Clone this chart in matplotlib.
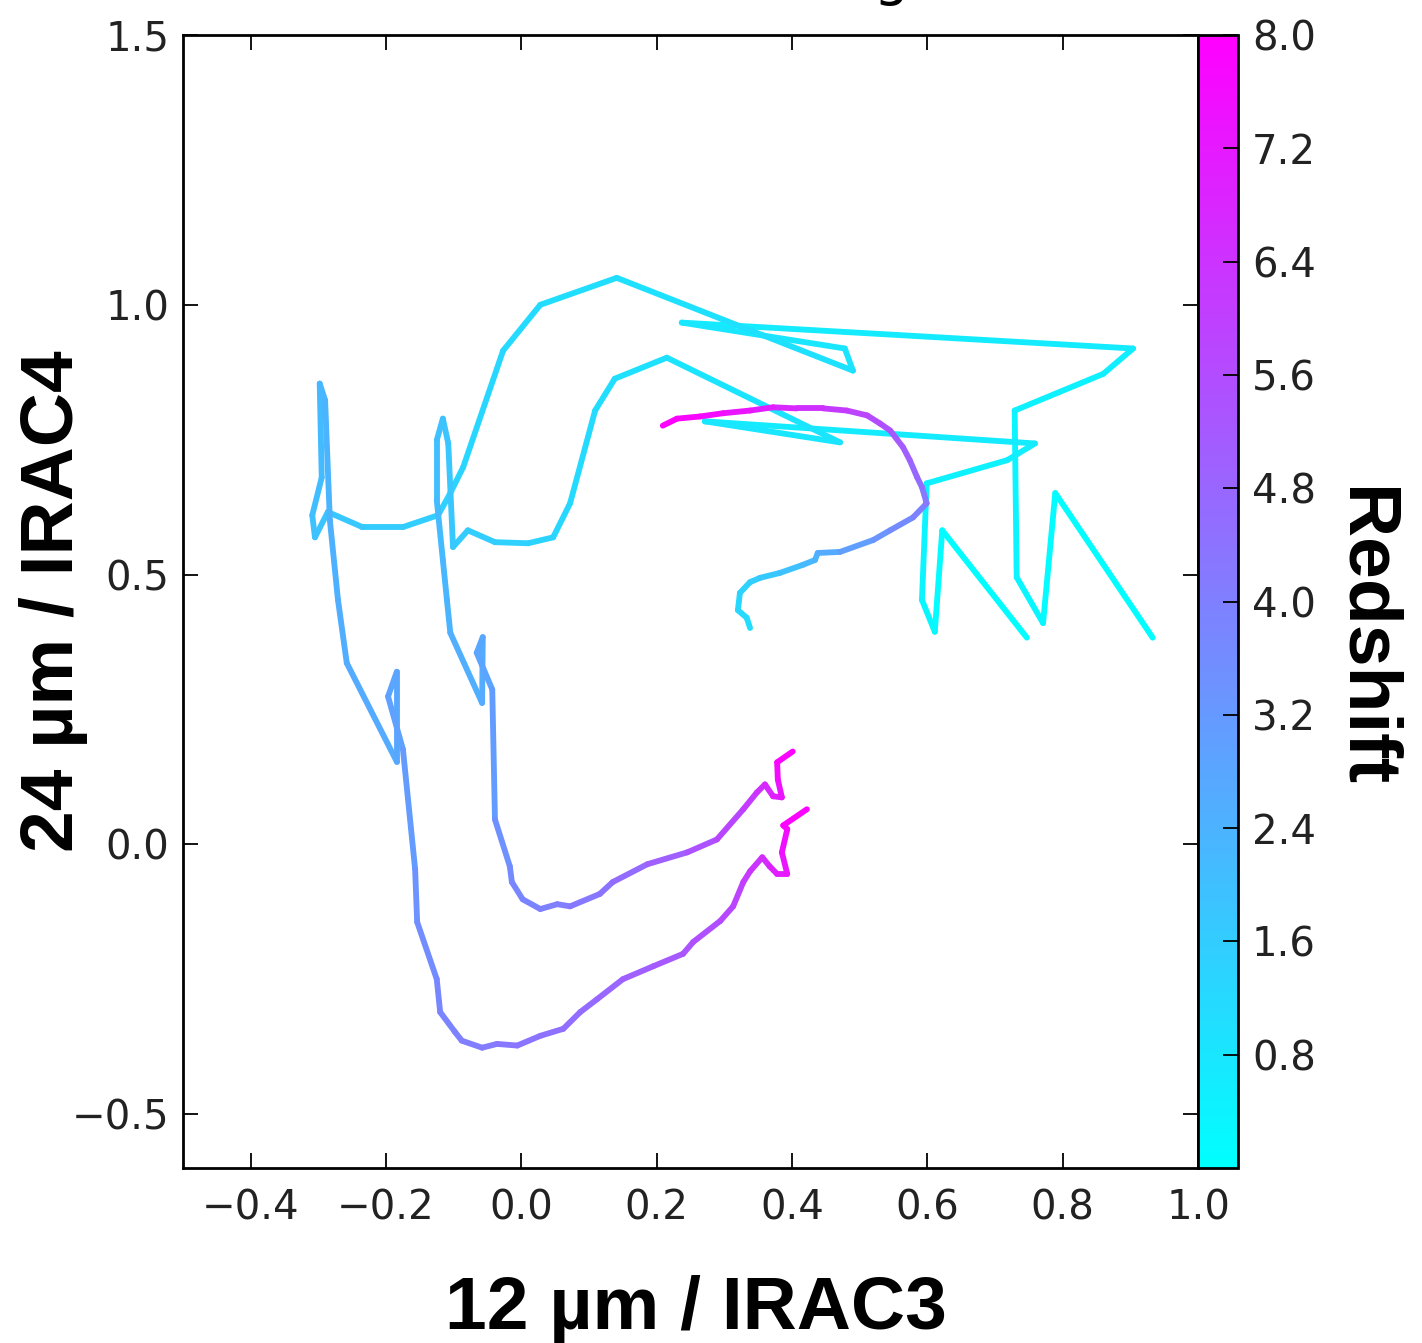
import numpy as np
import matplotlib
matplotlib.use("Agg")
import matplotlib.pyplot as plt
from matplotlib.collections import LineCollection
from matplotlib.colors import Normalize
from matplotlib.cm import ScalarMappable

# Track 1 (outer U) : colour ratios and redshift
track1_x = [0.933, 0.789, 0.771, 0.732, 0.729, 0.860, 0.904, 0.237, 0.478, 0.490,
            0.141, 0.028, -0.027, -0.086, -0.105, -0.123, -0.175, -0.235, -0.286, -0.305,
            -0.309, -0.295, -0.298, -0.290, -0.283, -0.271, -0.258, -0.184, -0.184, -0.197,
            -0.175, -0.157, -0.154, -0.125, -0.120, -0.098, -0.088, -0.058, -0.036, -0.006,
            0.028, 0.062, 0.087, 0.112, 0.150, 0.195, 0.239, 0.254, 0.294, 0.313,
            0.328, 0.338, 0.356, 0.367, 0.378, 0.393, 0.385, 0.393, 0.387, 0.422]
track1_y = [0.383, 0.651, 0.410, 0.495, 0.804, 0.872, 0.919, 0.967, 0.919, 0.878,
            1.050, 1.000, 0.915, 0.699, 0.651, 0.610, 0.588, 0.588, 0.616, 0.569,
            0.610, 0.680, 0.854, 0.823, 0.601, 0.453, 0.336, 0.153, 0.320, 0.274,
            0.176, -0.046, -0.144, -0.250, -0.311, -0.348, -0.364, -0.377, -0.370, -0.373,
            -0.355, -0.342, -0.311, -0.287, -0.250, -0.226, -0.203, -0.181, -0.142, -0.115,
            -0.070, -0.050, -0.024, -0.041, -0.055, -0.055, -0.015, 0.028, 0.035, 0.065]
track1_z = [0.0, 0.1, 0.2, 0.3, 0.4, 0.5, 0.6, 0.7, 0.8, 0.9,
            1.0, 1.1, 1.2, 1.3, 1.4, 1.5, 1.6, 1.7, 1.8, 1.9,
            2.0, 2.1, 2.2, 2.3, 2.4, 2.5, 2.6, 2.7, 2.8, 2.9,
            3.0, 3.3, 3.5, 3.7, 3.8, 3.9, 4.0, 4.1, 4.2, 4.3,
            4.4, 4.5, 4.6, 4.7, 4.9, 5.1, 5.3, 5.4, 5.6, 5.8,
            6.0, 6.2, 6.5, 6.8, 7.0, 7.2, 7.4, 7.6, 7.8, 8.0]

# Track 2 (inner U)
track2_x = [0.747, 0.622, 0.611, 0.592, 0.599, 0.718, 0.759, 0.271, 0.471, 0.215,
            0.138, 0.109, 0.072, 0.047, 0.010, -0.039, -0.079, -0.101, -0.108, -0.116,
            -0.125, -0.125, -0.116, -0.110, -0.105, -0.058, -0.057, -0.066, -0.043, -0.039,
            -0.017, -0.014, 0.002, 0.028, 0.053, 0.072, 0.116, 0.135, 0.186, 0.245,
            0.289, 0.328, 0.348, 0.360, 0.372, 0.385, 0.379, 0.378, 0.401]
track2_y = [0.383, 0.582, 0.394, 0.453, 0.669, 0.712, 0.743, 0.784, 0.745, 0.902,
            0.863, 0.804, 0.632, 0.569, 0.558, 0.560, 0.582, 0.551, 0.743, 0.789,
            0.749, 0.638, 0.527, 0.453, 0.392, 0.262, 0.384, 0.355, 0.287, 0.046,
            -0.041, -0.070, -0.102, -0.120, -0.111, -0.115, -0.092, -0.070, -0.037, -0.015,
            0.009, 0.065, 0.096, 0.111, 0.089, 0.087, 0.120, 0.152, 0.172]
track2_z = [0.0, 0.1, 0.2, 0.3, 0.4, 0.5, 0.6, 0.7, 0.8, 0.9,
            1.0, 1.1, 1.2, 1.3, 1.4, 1.5, 1.6, 1.7, 1.8, 1.9,
            2.0, 2.1, 2.2, 2.3, 2.4, 2.6, 2.7, 2.8, 2.9, 3.3,
            3.6, 3.7, 3.8, 3.9, 4.0, 4.1, 4.3, 4.5, 4.8, 5.2,
            5.6, 6.0, 6.3, 6.6, 6.9, 7.2, 7.5, 7.8, 8.0]

# Track 3 (upper arc)
track3_x = [0.338, 0.333, 0.320, 0.323, 0.338, 0.353, 0.382, 0.416, 0.434, 0.438,
            0.471, 0.520, 0.545, 0.579, 0.599, 0.592, 0.585, 0.574, 0.564, 0.545,
            0.530, 0.511, 0.481, 0.446, 0.407, 0.372, 0.338, 0.298, 0.264, 0.230, 0.209]
track3_y = [0.401, 0.420, 0.434, 0.466, 0.486, 0.494, 0.503, 0.518, 0.527, 0.540,
            0.542, 0.564, 0.582, 0.606, 0.632, 0.662, 0.680, 0.712, 0.736, 0.767,
            0.780, 0.795, 0.804, 0.808, 0.808, 0.810, 0.804, 0.799, 0.793, 0.789, 0.776]
track3_z = [1.0, 1.1, 1.2, 1.3, 1.5, 1.6, 1.8, 2.1, 2.3, 2.5,
            2.8, 3.2, 3.5, 3.8, 4.1, 4.4, 4.6, 4.9, 5.1, 5.3,
            5.5, 5.7, 6.0, 6.3, 6.6, 6.9, 7.2, 7.5, 7.7, 7.9, 8.0]

cbar_ticks = [0.8, 1.6, 2.4, 3.2, 4.0, 4.8, 5.6, 6.4, 7.2, 8.0]

tick_font = 29
label_font = {"family": "Liberation Sans", "weight": "bold", "size": 54}

fig = plt.figure(figsize=(14.22, 13.43), dpi=100)
ax = fig.add_axes([0.1287, 0.1303, 0.7138, 0.8436])
cax = fig.add_axes([0.8425, 0.1303, 0.0281, 0.8436])

norm = Normalize(vmin=0, vmax=8)
cmap = plt.get_cmap("cool")

for xs, ys, zs in [(track1_x, track1_y, track1_z),
                   (track2_x, track2_y, track2_z),
                   (track3_x, track3_y, track3_z)]:
    pts = np.column_stack([xs, ys]).reshape(-1, 1, 2)
    segs = np.concatenate([pts[:-1], pts[1:]], axis=1)
    zmid = 0.5 * (np.array(zs[:-1]) + np.array(zs[1:]))
    lc = LineCollection(segs, cmap=cmap, norm=norm, linewidths=4.2,
                        capstyle="round", joinstyle="round")
    lc.set_array(zmid)
    ax.add_collection(lc)

ax.set_xlim(-0.5, 1.0)
ax.set_ylim(-0.6, 1.5)
ax.set_xticks([-0.4, -0.2, 0.0, 0.2, 0.4, 0.6, 0.8, 1.0])
ax.set_yticks([-0.5, 0.0, 0.5, 1.0, 1.5])
ax.tick_params(direction="in", top=True, right=True, length=11, width=1.3,
               labelsize=tick_font, labelcolor="#222222")
ax.tick_params(axis="x", pad=15)
ax.tick_params(axis="y", pad=10)
for sp in ax.spines.values():
    sp.set_linewidth(2.0)

ax.set_xlabel("12 µm / IRAC3", fontdict=label_font, va="center")
ax.xaxis.set_label_coords(0.505, -0.125)
ax.set_ylabel("24 µm / IRAC4", fontdict=label_font, va="center")
ax.yaxis.set_label_coords(-0.128, 0.5)

sm = ScalarMappable(norm=norm, cmap=cmap)
cb = fig.colorbar(sm, cax=cax, ticks=cbar_ticks)
cb.ax.tick_params(direction="in", length=11, width=1.3, labelsize=tick_font,
                  labelcolor="#222222", pad=10)
cb.outline.set_linewidth(2.0)
cb.set_label("Redshift", fontdict=label_font, rotation=-90, va="center")
cax.yaxis.set_label_coords(4.15, 0.469)

# descender of a title that lies above the figure edge
fig.text(0.627, 1.0 + 6 / 1343, "g", fontsize=40, ha="center", va="baseline")

fig.savefig("out.png", dpi=100)
